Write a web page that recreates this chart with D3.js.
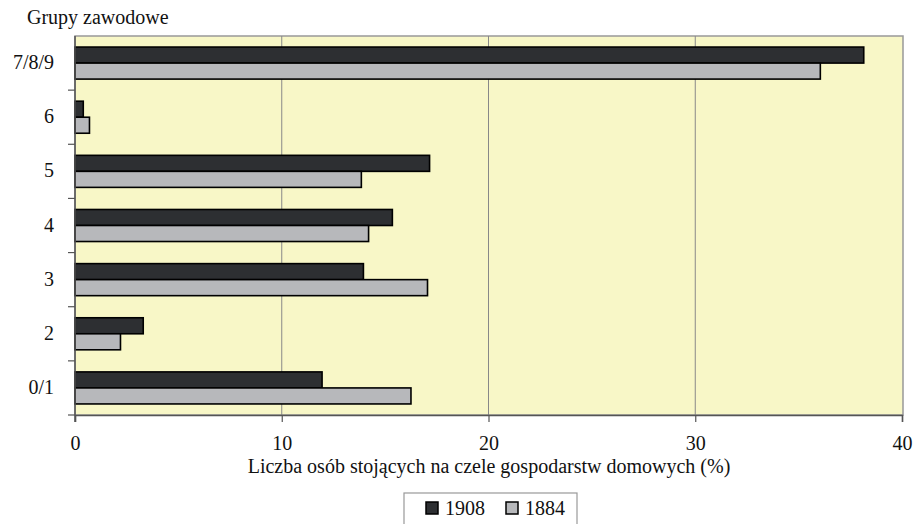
<!DOCTYPE html>
<html><head><meta charset="utf-8">
<script src="https://cdn.jsdelivr.net/npm/d3@7"></script>
<style>body{margin:0;background:#fff}text{font-family:"Liberation Serif","DejaVu Serif",serif;fill:#111}</style>
</head><body><svg id="c" width="919" height="524"></svg>
<script>
const categories = ["7/8/9","6","5","4","3","2","0/1"];
const series = ["1908","1884"];
const values1908 = [38.15, 0.4, 17.15, 15.35, 13.95, 3.3, 11.95];
const values1884 = [36.05, 0.7, 13.85, 14.2, 17.05, 2.2, 16.25];
const xTicks = [0,10,20,30,40];
const colors = {"1908":"#2d2f32","1884":"#b7b8bb"};

const svg = d3.select("#c");
const L=75, R=903, T=36, B=415;
const x = d3.scaleLinear().domain([0,40]).range([L,R-1]);
const y = d3.scaleBand().domain(categories).range([T,B]);
const inner = d3.scaleBand().domain(series).range([0,y.bandwidth()]).paddingOuter(0.69).paddingInner(0);

svg.append("rect").attr("x",L).attr("y",T).attr("width",R-L).attr("height",B-T).attr("fill","#f8f7c7").attr("stroke","#999").attr("stroke-width",1.5);
svg.selectAll(".grid").data(xTicks.slice(1,-1)).join("line").attr("x1",d=>x(d)).attr("x2",d=>x(d)).attr("y1",T).attr("y2",B).attr("stroke","#888").attr("stroke-width",1);

const rows = categories.map((c,i)=>({c, v:{"1908":values1908[i],"1884":values1884[i]}}));
const g = svg.append("g");
rows.forEach(r=>{
  series.forEach(s=>{
    g.append("rect").attr("x",x(0)).attr("y",y(r.c)+inner(s)).attr("width",x(r.v[s])-x(0)).attr("height",inner.bandwidth())
      .attr("fill",colors[s]).attr("stroke","#000").attr("stroke-width",1.6);
  });
});

// axes
const xa = svg.append("g").attr("transform",`translate(0,${B})`).call(d3.axisBottom(x).tickValues(xTicks).tickSize(7).tickFormat(d3.format("d")));
xa.select(".domain").attr("stroke","#555").attr("stroke-width",1.5);
xa.selectAll(".tick line").attr("stroke","#555").attr("stroke-width",1.2);
xa.selectAll(".tick text").attr("dy",0).attr("y",35).style("font-size","20px").attr("fill","#111");

const bounds = categories.slice(1).map(c=>y(c)).concat([B]);
svg.append("line").attr("x1",L).attr("x2",L).attr("y1",T).attr("y2",B+7).attr("stroke","#555").attr("stroke-width",1.5);
svg.selectAll(".yt").data(bounds).join("line").attr("x1",L-7).attr("x2",L).attr("y1",d=>d).attr("y2",d=>d).attr("stroke","#555").attr("stroke-width",1.2);
svg.selectAll(".yl").data(categories).join("text").attr("x",54).attr("y",c=>y(c)+y.bandwidth()/2+6).attr("text-anchor","end").style("font-size","20px").text(c=>c);

svg.append("text").attr("x",27).attr("y",24).style("font-size","20px").text("Grupy zawodowe");
svg.append("text").attr("x",489).attr("y",473).attr("text-anchor","middle").style("font-size","20px").text("Liczba osób stojących na czele gospodarstw domowych (%)");

// legend
const lg = svg.append("g");
lg.append("rect").attr("x",404).attr("y",493).attr("width",173).attr("height",50).attr("fill","#fff").attr("stroke","#999").attr("stroke-width",1.2);
const lx = [426, 506];
series.forEach((s,i)=>{
  lg.append("rect").attr("x",lx[i]).attr("y",502).attr("width",12).attr("height",12).attr("fill",colors[s]).attr("stroke","#000").attr("stroke-width",1.5);
  lg.append("text").attr("x",lx[i]+19).attr("y",515).style("font-size","20px").text(s);
});
</script></body></html>
